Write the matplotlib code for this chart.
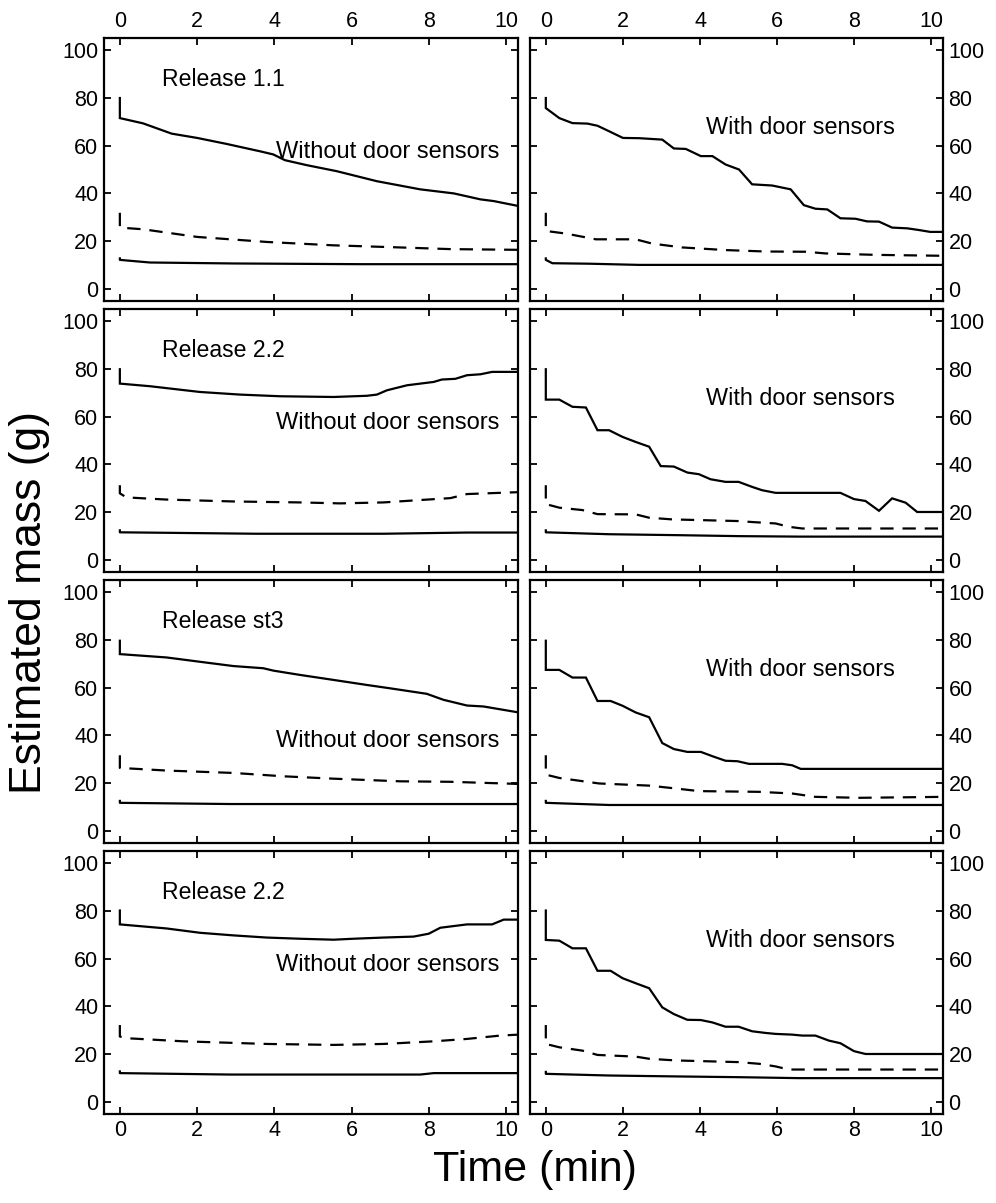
import matplotlib
matplotlib.use("Agg")
import matplotlib.pyplot as plt

plt.rcParams['font.family'] = ['Liberation Sans', 'DejaVu Sans']

# ---- data ----
releases = ["Release 1.1", "Release 2.2", "Release st3", "Release 2.2"]
without_label_y = [57.5, 57.5, 37.6, 57.5]
with_label_y = [67.5, 67.5, 67.5, 67.5]

# row 1, without door sensors
r1L_top_x = [0, 0, 0.6, 1.34, 2.0, 2.76, 3.63, 3.97, 4.27, 4.84, 5.61, 6.65, 7.77, 8.64, 9.33, 9.67, 10.32]
r1L_top_y = [79.9, 71.5, 69.3, 65.0, 63.2, 60.7, 57.6, 56.3, 53.9, 51.8, 49.3, 45.1, 41.7, 40.0, 37.5, 36.8, 34.7]
r1L_dash_x = [0, 0, 0.6, 2.0, 3.8, 5.5, 7.25, 8.55, 10.32]
r1L_dash_y = [31.9, 25.7, 25.0, 21.8, 19.7, 18.3, 17.4, 16.7, 16.4]
r1L_low_x = [0, 0, 0.78, 2.94, 6.22, 10.32]
r1L_low_y = [12.8, 12.2, 11.1, 10.7, 10.4, 10.4]

# row 1, with door sensors
r1R_top_x = [0, 0, 0.35, 0.69, 1.08, 1.34, 1.64, 2.0, 2.42, 3.02, 3.32, 3.63, 4.02, 4.32, 4.66, 5.01,
             5.35, 5.87, 6.35, 6.69, 6.99, 7.3, 7.64, 8.03, 8.33, 8.64, 8.98, 9.37, 9.67, 9.97, 10.32]
r1R_top_y = [79.9, 75.7, 71.5, 69.4, 69.2, 68.3, 66.0, 63.2, 63.1, 62.5, 58.8, 58.6, 55.6, 55.6, 52.1, 50.0,
             43.8, 43.3, 41.7, 35.1, 33.6, 33.3, 29.6, 29.4, 28.3, 28.2, 25.7, 25.4, 24.7, 23.9, 23.9]
r1R_dash_x = [0, 0, 0.52, 1.3, 2.33, 2.76, 3.54, 4.66, 5.7, 6.74, 7.25, 8.55, 10.32]
r1R_dash_y = [31.9, 24.3, 23.2, 20.8, 20.8, 19.0, 17.4, 16.3, 15.7, 15.6, 14.9, 14.3, 13.9]
r1R_low_x = [0, 0, 0.17, 1.12, 2.42, 10.32]
r1R_low_y = [12.8, 12.2, 10.8, 10.6, 10.1, 10.1]

# row 2, without door sensors
r2L_top_x = [0, 0, 0.78, 2.07, 3.11, 4.15, 5.53, 6.39, 6.65, 6.91, 7.43, 8.12, 8.33, 8.68, 8.98, 9.33, 9.63, 10.32]
r2L_top_y = [79.8, 73.8, 72.7, 70.3, 69.2, 68.5, 68.2, 68.7, 69.2, 71.0, 73.1, 74.5, 75.5, 75.8, 77.3, 77.7, 78.7, 78.7]
r2L_dash_x = [0, 0, 0.17, 1.2, 2.94, 4.66, 5.7, 6.82, 7.77, 8.55, 8.98, 10.32]
r2L_dash_y = [31.3, 27.9, 26.2, 25.3, 24.5, 24.1, 23.7, 24.1, 25.1, 25.9, 27.6, 28.4]
r2L_low_x = [0, 0, 3.54, 6.82, 8.98, 10.32]
r2L_low_y = [12.4, 11.6, 11.0, 11.0, 11.5, 11.5]

# row 2, with door sensors
r2R_top_x = [0, 0, 0.35, 0.69, 1.04, 1.34, 1.64, 1.99, 2.33, 2.68, 2.98, 3.32, 3.67, 3.97, 4.27, 4.66,
             5.0, 5.35, 5.61, 5.96, 7.64, 7.99, 8.29, 8.64, 8.98, 9.33, 9.63, 10.32]
r2R_top_y = [79.8, 67.1, 67.1, 64.1, 63.8, 54.3, 54.3, 51.5, 49.4, 47.4, 39.3, 39.1, 36.6, 35.9, 33.8, 32.7,
             32.7, 30.6, 29.2, 28.1, 28.1, 25.5, 24.7, 20.6, 25.8, 24.0, 20.1, 20.1]
r2R_dash_x = [0, 0, 0.35, 0.95, 1.34, 2.33, 2.68, 3.28, 5.0, 5.35, 5.96, 6.3, 6.65, 10.32]
r2R_dash_y = [31.3, 23.4, 21.9, 20.9, 19.2, 19.1, 17.7, 17.0, 16.3, 15.9, 15.3, 13.9, 13.2, 13.2]
r2R_low_x = [0, 0, 1.64, 3.45, 5.0, 6.56, 10.32]
r2R_low_y = [12.4, 11.6, 10.8, 10.4, 10.0, 9.8, 9.8]

# row 3, without door sensors
r3L_top_x = [0, 0, 1.21, 2.07, 2.94, 3.71, 3.97, 4.66, 5.53, 6.39, 6.99, 7.94, 8.37, 8.98, 9.41, 10.32]
r3L_top_y = [79.6, 74.0, 72.6, 70.8, 69.0, 68.1, 67.1, 65.3, 63.2, 61.1, 59.7, 57.4, 54.9, 52.5, 52.1, 49.6]
r3L_dash_x = [0, 0, 1.21, 2.94, 4.23, 5.53, 7.25, 8.55, 10.32]
r3L_dash_y = [31.7, 26.4, 25.3, 24.3, 22.9, 21.9, 20.8, 20.6, 19.7]
r3L_low_x = [0, 0, 2.85, 10.32]
r3L_low_y = [12.6, 11.8, 11.3, 11.3]

# row 3, with door sensors
r3R_top_x = [0, 0, 0.35, 0.69, 1.04, 1.34, 1.68, 1.99, 2.33, 2.68, 3.02, 3.32, 3.67, 4.02, 4.32, 4.66,
             4.97, 5.27, 6.13, 6.39, 6.61, 10.32]
r3R_top_y = [79.6, 67.4, 67.4, 64.2, 64.2, 54.4, 54.4, 52.4, 49.6, 47.6, 36.8, 34.3, 33.1, 33.1, 31.3, 29.4,
             29.2, 28.1, 28.1, 27.5, 26.0, 26.0]
r3R_dash_x = [0, 0, 0.35, 1.38, 2.68, 3.37, 3.97, 5.53, 6.39, 6.99, 8.12, 10.32]
r3R_dash_y = [31.7, 23.6, 22.2, 19.9, 19.0, 17.8, 16.7, 16.4, 15.7, 14.3, 13.9, 14.3]
r3R_low_x = [0, 0, 1.64, 10.32]
r3R_low_y = [12.6, 11.8, 10.9, 10.9]

# row 4, without door sensors
r4L_top_x = [0, 0, 1.21, 2.07, 2.94, 3.8, 4.66, 5.53, 6.04, 6.82, 7.6, 7.99, 8.29, 8.98, 9.63, 9.93, 10.32]
r4L_top_y = [80.1, 74.3, 72.6, 70.8, 69.7, 68.8, 68.3, 67.9, 68.3, 68.8, 69.2, 70.4, 72.9, 74.3, 74.3, 76.3, 76.3]
r4L_dash_x = [0, 0, 0.17, 1.64, 3.8, 5.53, 6.82, 8.12, 8.98, 9.84, 10.32]
r4L_dash_y = [32.2, 27.4, 26.7, 25.4, 24.3, 23.9, 24.3, 25.4, 26.4, 27.8, 28.2]
r4L_low_x = [0, 0, 2.85, 7.77, 8.12, 10.32]
r4L_low_y = [12.8, 12.1, 11.5, 11.5, 12.1, 12.1]

# row 4, with door sensors
r4R_top_x = [0, 0, 0.35, 0.69, 1.04, 1.34, 1.68, 1.99, 2.33, 2.68, 3.02, 3.32, 3.67, 4.02, 4.32, 4.66,
             5.0, 5.35, 5.7, 5.96, 6.39, 6.65, 6.99, 7.34, 7.64, 7.99, 8.29, 10.32]
r4R_top_y = [80.1, 67.8, 67.5, 64.3, 64.3, 54.9, 54.9, 51.8, 49.7, 47.6, 39.6, 36.8, 34.4, 34.3, 33.3, 31.5,
             31.5, 29.6, 28.9, 28.5, 28.2, 27.8, 27.8, 25.7, 24.6, 21.3, 20.1, 20.1]
r4R_dash_x = [0, 0, 0.35, 0.95, 1.34, 2.33, 2.68, 3.37, 5.0, 5.53, 5.96, 6.3, 10.32]
r4R_dash_y = [32.2, 24.3, 22.9, 21.5, 19.7, 19.0, 18.1, 17.4, 16.7, 16.0, 14.9, 13.6, 13.6]
r4R_low_x = [0, 0, 1.64, 3.45, 5.0, 6.56, 10.32]
r4R_low_y = [12.6, 11.8, 11.1, 10.7, 10.4, 10.0, 10.0]

panels = [
    [(r1L_top_x, r1L_top_y, r1L_dash_x, r1L_dash_y, r1L_low_x, r1L_low_y),
     (r1R_top_x, r1R_top_y, r1R_dash_x, r1R_dash_y, r1R_low_x, r1R_low_y)],
    [(r2L_top_x, r2L_top_y, r2L_dash_x, r2L_dash_y, r2L_low_x, r2L_low_y),
     (r2R_top_x, r2R_top_y, r2R_dash_x, r2R_dash_y, r2R_low_x, r2R_low_y)],
    [(r3L_top_x, r3L_top_y, r3L_dash_x, r3L_dash_y, r3L_low_x, r3L_low_y),
     (r3R_top_x, r3R_top_y, r3R_dash_x, r3R_dash_y, r3R_low_x, r3R_low_y)],
    [(r4L_top_x, r4L_top_y, r4L_dash_x, r4L_dash_y, r4L_low_x, r4L_low_y),
     (r4R_top_x, r4R_top_y, r4R_dash_x, r4R_dash_y, r4R_low_x, r4R_low_y)],
]

# ---- layout (pixel-based, 996x1203) ----
W, H = 996, 1203
fig = plt.figure(figsize=(W / 100, H / 100), dpi=100)

col_left = [104, 530]
col_w = [414, 413]
row_top = [38, 309, 580, 851]
row_h = 263

lw = 1.6
for r in range(4):
    for c in range(2):
        ax = fig.add_axes([col_left[c] / W, (H - row_top[r] - row_h) / H, col_w[c] / W, row_h / H])
        tx, ty, dx, dy, lx, ly = panels[r][c]
        ax.plot(tx, ty, color='black', lw=lw, solid_joinstyle='miter')
        ax.plot(dx, dy, color='black', lw=lw, dashes=(6, 4))
        ax.plot(lx, ly, color='black', lw=lw)

        ax.set_xlim(-0.41, 10.3)
        ax.set_ylim(-5, 105)
        ax.set_xticks([0, 2, 4, 6, 8, 10])
        ax.set_yticks([0, 20, 40, 60, 80, 100])
        for s in ax.spines.values():
            s.set_linewidth(1.6)
        ax.tick_params(direction='in', length=5, width=1.3, labelsize=15.5,
                       top=True, bottom=True, left=True, right=True,
                       labeltop=(r == 0), labelbottom=(r == 3),
                       labelleft=(c == 0), labelright=(c == 1), pad=4)

        if c == 0:
            ax.text(1.1, 87.5, releases[r], fontsize=16.6, va='center', ha='left')
            ax.text(4.05, without_label_y[r], "Without door sensors", fontsize=17, va='center', ha='left')
        else:
            ax.text(4.15, with_label_y[r], "With door sensors", fontsize=16.8, va='center', ha='left')

fig.text(30 / W, 1 - 603 / H, "Estimated mass (g)", fontsize=32, rotation=90, ha='center', va='center')
fig.text(535 / W, 1 - 1170 / H, "Time (min)", fontsize=31, ha='center', va='center')

fig.savefig("out.png", dpi=100)
